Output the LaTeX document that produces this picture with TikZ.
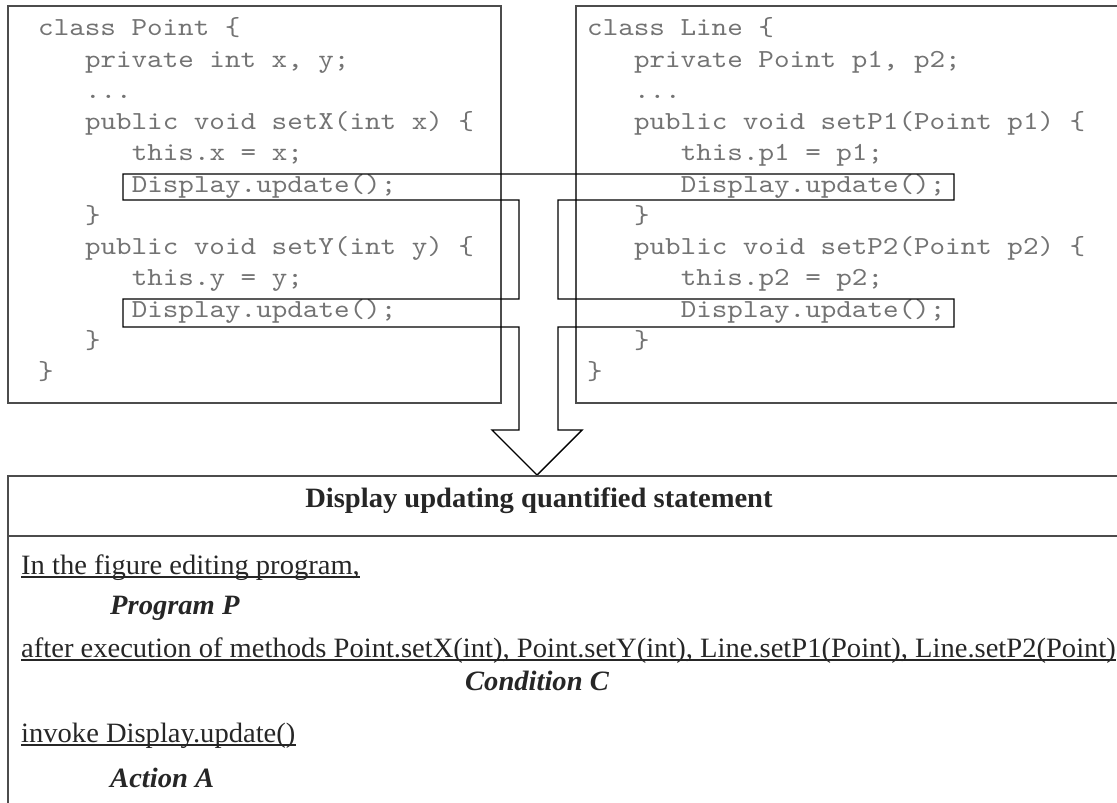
\documentclass[tikz,border=0pt]{standalone}
\usepackage{fontspec}
\setmainfont{Liberation Serif}[FakeStretch=1.02]
\setmonofont{lmmono10-regular.otf}[FakeStretch=1.14]
\usetikzlibrary{calc}

\tikzset{
  frame/.style={draw=black!70, line width=1.8pt},
  codeline/.style={anchor=base west, inner sep=0pt, text=black!55,
    font=\fontsize{26}{31}\selectfont\ttfamily},
  flow/.style={draw=black, line width=1.4pt, line join=miter},
  stmt/.style={anchor=base west, inner sep=0pt, text=black!85,
    font=\fontsize{28}{32}\selectfont},
  term/.style={stmt, font=\fontsize{28}{32}\selectfont\bfseries\itshape},
  uline/.style={draw=black!85, line width=1.2pt},
}

\begin{document}
\begin{tikzpicture}[x=1pt, y=-1pt]
\clip (0,0) rectangle (1117,803);

% the two classes
\draw[frame] (8,6) rectangle (501,403);
\draw[frame] (1130,6) -- (576,6) -- (576,403) -- (1130,403);

\foreach \lv/\s [count=\i] in {0/{class Point \{}, 1/{private int x, y;}, 1/{.{}.{}.},
    1/{public void setX(int x) \{}, 2/{this.x = x;}, 2/{Display.update();}, 1/{\}},
    1/{public void setY(int y) \{}, 2/{this.y = y;}, 2/{Display.update();}, 1/{\}}, 0/{\}}}
  \node[codeline] (pt\i) at (38+\lv*46.8, 35.75+\i*31.25-31.25) {\s};

\foreach \lv/\s [count=\i] in {0/{class Line \{}, 1/{private Point p1, p2;}, 1/{.{}.{}.},
    1/{public void setP1(Point p1) \{}, 2/{this.p1 = p1;}, 2/{Display.update();}, 1/{\}},
    1/{public void setP2(Point p2) \{}, 2/{this.p2 = p2;}, 2/{Display.update();}, 1/{\}}, 0/{\}}}
  \node[codeline] (ln\i) at (587+\lv*46.8, 35.75+\i*31.25-31.25) {\s};

% update calls gathered into one arrow
\draw[flow] (123,174) -- (954,174) -- (954,200) -- (558,200) -- (558,299)
  -- (954,299) -- (954,327) -- (558,327) -- (558,430) -- (582,430)
  -- (537,475) -- (492,430) -- (519,430) -- (519,327) -- (123,327)
  -- (123,299) -- (519,299) -- (519,200) -- (123,200) -- cycle;

% the statement
\draw[frame] (1130,476) -- (8,476) -- (8,820);
\draw[frame] (8,536) -- (1130,536);

\node[stmt, font=\fontsize{28}{32}\selectfont\bfseries, anchor=base] (head) at (539,507)
  {Display updating quantified statement};

\node[stmt] (prog) at (21,574) {In the figure editing program,};
\node[term] (progP) at (110,614) {Program P};
\node[stmt] (cond) at (21,657)
  {after execution of methods Point.setX(int), Point.setY(int), Line.setP1(Point), Line.setP2(Point)};
\node[term, anchor=base] (condC) at (537,690) {Condition C};
\node[stmt] (act) at (21,742) {invoke Display.update()};
\node[term] (actA) at (110,787) {Action A};

\foreach \n in {prog,cond,act}
  \draw[uline] ([yshift=-3pt]\n.base west) -- ([yshift=-3pt]\n.base east);
\end{tikzpicture}
\end{document}
